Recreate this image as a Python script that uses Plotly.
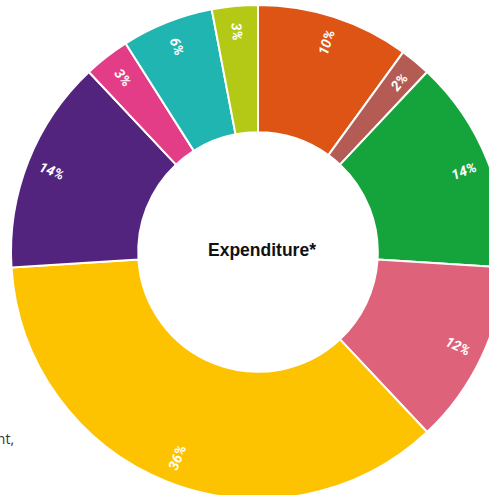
import math
import plotly.graph_objects as go

categories = ["Orange", "Brown", "Green", "Pink", "Yellow", "Purple", "Magenta", "Teal", "Lime"]
values = [10, 2, 14, 12, 36, 14, 3, 6, 3]
colors = ["#DD5414", "#B45B54", "#15A33B", "#DE6279", "#FDC300", "#52247E", "#E43D87", "#20B5B1", "#B3C916"]
center_label = "Expenditure*"
side_text = "Investment,"

W, H = 516, 504
cx, cy, R = 258, 252, 247
dom = dict(x=[(cx - R) / W, (cx + R) / W], y=[(H - cy - R) / H, (H - cy + R) / H])

fig = go.Figure()
fig.add_trace(go.Pie(
    labels=categories, values=values, sort=False, direction="clockwise", rotation=0,
    hole=0.485,
    marker=dict(colors=colors, line=dict(color="white", width=2)),
    textinfo="none", showlegend=False, hoverinfo="skip", domain=dom,
))

# percentage labels near the rim, oriented radially at each slice's mid angle
total = sum(values)
cum = 0
label_r = 0.895 * R
for v in values:
    theta = (cum + v / 2) / total * 360.0
    cum += v
    px = cx + label_r * math.sin(math.radians(theta))
    py = cy - label_r * math.cos(math.radians(theta))
    ang = theta - 90 if theta < 180 else theta - 270
    fig.add_annotation(
        text=f"{v}%", x=px / W, y=1 - py / H, xref="paper", yref="paper",
        xanchor="center", yanchor="middle",
        showarrow=False, textangle=ang,
        font=dict(family="Roboto", size=14, color="white", weight="bold", style="italic"),
    )

fig.add_annotation(text="<b>" + center_label + "</b>", x=(cx + 4) / W, y=1 - 250 / H,
                   xref="paper", yref="paper", xanchor="center", yanchor="middle", showarrow=False,
                   font=dict(family="Liberation Sans", size=17.5, color="#111111"))
fig.add_annotation(text=side_text, x=16 / W, y=1 - 438 / H, xref="paper", yref="paper",
                   xanchor="right", yanchor="middle", showarrow=False,
                   font=dict(family="Open Sans", size=14, color="#333333"))

fig.update_layout(width=W, height=H, margin=dict(l=0, r=0, t=0, b=0),
                  paper_bgcolor="white", plot_bgcolor="white")

fig.write_html("out.html", post_script="document.body.style.overflow='hidden';document.body.style.margin='0';")
